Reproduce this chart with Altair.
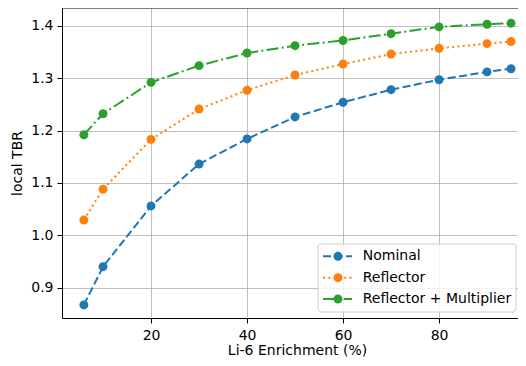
import altair as alt
import pandas as pd

enrichment = [6, 10, 20, 30, 40, 50, 60, 70, 80, 90, 95]
nominal = [0.867, 0.940, 1.056, 1.136, 1.184, 1.226, 1.254, 1.278, 1.297, 1.312, 1.318]
reflector = [1.029, 1.088, 1.183, 1.241, 1.277, 1.306, 1.327, 1.346, 1.357, 1.366, 1.370]
refl_mult = [1.192, 1.232, 1.292, 1.324, 1.348, 1.362, 1.372, 1.385, 1.398, 1.403, 1.405]

series_names = ["Nominal", "Reflector", "Reflector + Multiplier"]
series_values = [nominal, reflector, refl_mult]
colors = ["#1f77b4", "#ff7f0e", "#2ca02c"]
dashes = [[8, 3.5], [2, 3.3], [12, 3.3, 2, 3.3]]

rows = []
for name, vals in zip(series_names, series_values):
    for x, y in zip(enrichment, vals):
        rows.append({"x": x, "y": y, "series": name})
df = pd.DataFrame(rows)

W, H = 456, 310
FONT = "DejaVu Sans"
FS = 14

xscale = alt.Scale(domain=[1.45, 96.45], nice=False, zero=False)
yscale = alt.Scale(domain=[0.842, 1.434], nice=False, zero=False)

common = dict(grid=True, gridColor="#b0b0b0", gridWidth=0.8, domainColor="black",
              domainWidth=1, tickColor="black", tickSize=5, labelFontSize=FS,
              titleFontSize=FS, labelFont=FONT, titleFont=FONT, titleFontWeight="normal",
              labelColor="black", titleColor="black")
xaxis = alt.Axis(values=[20, 40, 60, 80], title="Li-6 Enrichment (%)", labelPadding=5,
                 titleX=235, titleY=36, titleBaseline="alphabetic", titleAlign="center",
                 **common)
yaxis = alt.Axis(values=[0.9, 1.0, 1.1, 1.2, 1.3, 1.4], format=".1f", title="local TBR",
                 labelPadding=4, titleX=-41, titleY=155, titleBaseline="alphabetic",
                 titleAlign="center", titleAngle=270, **common)

X = alt.X("x:Q", scale=xscale, axis=xaxis)
Y = alt.Y("y:Q", scale=yscale, axis=yaxis)

layers = []
for i, name in enumerate(series_names):
    base = alt.Chart(df[df.series == name])
    layers.append(base.mark_line(color=colors[i], strokeWidth=2, strokeDash=dashes[i], clip=True)
                  .encode(x=X, y=Y))
    layers.append(base.mark_point(color=colors[i], filled=True, opacity=1, size=80, shape="circle")
                  .encode(x=X, y=Y))

one = pd.DataFrame({"a": [0]})
# top spine
layers.append(alt.Chart(one).mark_rule(color="black", strokeWidth=1).encode(
    x=alt.value(0), x2=alt.value(W), y=alt.value(0)))

# legend
box = alt.Chart(one).mark_rect(fill="white", fillOpacity=0.8, stroke="#cccccc", strokeWidth=1,
                               cornerRadius=3).encode(
    x=alt.value(256), x2=alt.value(454), y=alt.value(236), y2=alt.value(304))
layers.append(box)
row_y = [248.3, 269.7, 291]
for i, name in enumerate(series_names):
    yy = row_y[i]
    layers.append(alt.Chart(one).mark_rule(color=colors[i], strokeWidth=2, strokeDash=dashes[i]).encode(
        x=alt.value(261), x2=alt.value(290), y=alt.value(yy)))
    layers.append(alt.Chart(one).mark_point(color=colors[i], filled=True, opacity=1, size=80,
                                            shape="circle").encode(x=alt.value(276), y=alt.value(yy)))
    layers.append(alt.Chart(one).mark_text(text=name, align="left", baseline="middle", fontSize=FS,
                                           font=FONT, color="black").encode(
        x=alt.value(300.7), y=alt.value(yy)))

chart = alt.layer(*layers).properties(
    width=W, height=H,
    autosize=alt.AutoSizeParams(type="none"),
    padding={"left": 54, "top": 0, "right": 0, "bottom": 40},
).configure_view(strokeWidth=0)

chart.save("out.html", embed_options={"renderer": "svg", "actions": False})
